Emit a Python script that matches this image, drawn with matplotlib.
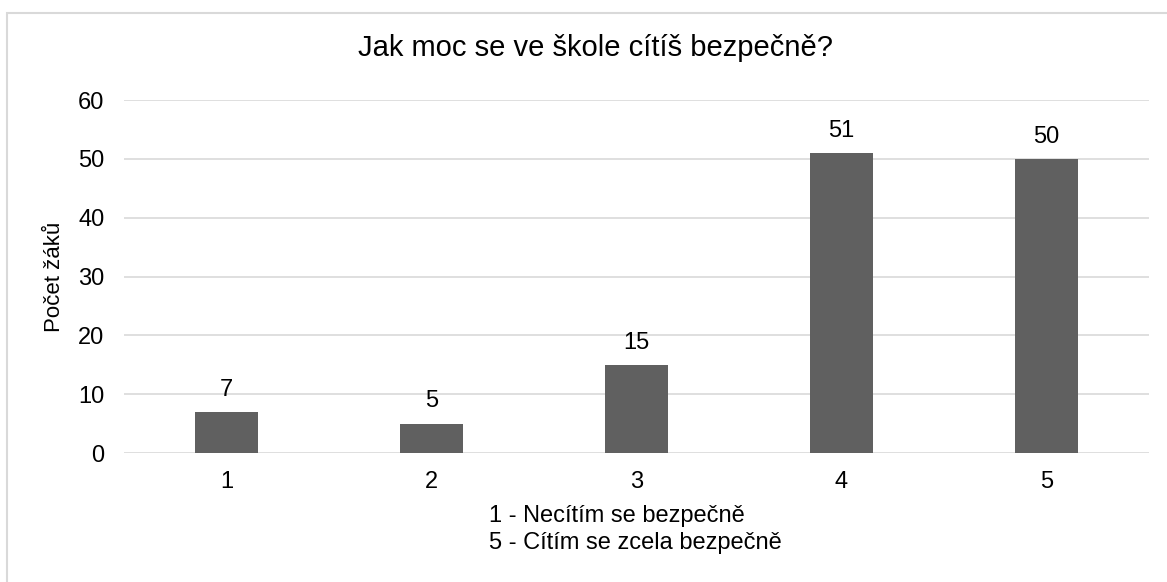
import matplotlib
matplotlib.use("Agg")
import matplotlib.pyplot as plt
from matplotlib.patches import Rectangle

categories = ["1", "2", "3", "4", "5"]
counts = [7, 5, 15, 51, 50]
yticks = [0, 10, 20, 30, 40, 50, 60]

plt.rcParams['font.family'] = ['Liberation Sans', 'DejaVu Sans']

W, H = 1167, 582
fig = plt.figure(figsize=(W / 100, H / 100), dpi=100)

# chart border (Excel-style frame, cut off at right and bottom)
fig.patches.append(Rectangle((7 / W, -0.1), 1.2, (H - 13) / H + 0.1,
                             transform=fig.transFigure, fill=False,
                             edgecolor="#d9d9d9", linewidth=1.5))

fs = 17
ax = fig.add_axes([124 / W, (H - 453) / H, (1149 - 124) / W, (453 - 100) / H])
x = range(len(categories))
bars = ax.bar(x, counts, width=0.31, color="#606060", zorder=3)
ax.set_xlim(-0.5, len(categories) - 0.5)
ax.set_ylim(0, 60)
ax.set_yticks(yticks)
ax.set_xticks(list(x))
ax.set_xticklabels(categories)
ax.grid(axis="y", color="#d9d9d9", linewidth=1.2, zorder=0)
for s in ax.spines.values():
    s.set_visible(False)
ax.tick_params(length=0, labelsize=fs, colors="black")
ax.tick_params(axis="x", pad=13)
ax.tick_params(axis="y", pad=14)

for b, v in zip(bars, counts):
    ax.annotate(str(v), (b.get_x() + b.get_width() / 2, v), xytext=(0, 8),
                textcoords="offset points", ha="center", va="bottom", fontsize=fs)

ax.set_ylabel("Počet žáků", fontsize=16)
ax.yaxis.set_label_coords(-59 / (1149 - 124), 0.5)

fig.text(595 / W, 1 - 48 / H, "Jak moc se ve škole cítíš bezpečně?",
         ha="center", va="center", fontsize=21)
fig.text(489 / W, 1 - 516 / H, "1 - Necítím se bezpečně", ha="left", va="center", fontsize=fs)
fig.text(489 / W, 1 - 543 / H, "5 - Cítím se zcela bezpečně", ha="left", va="center", fontsize=fs)

fig.savefig("out.png", dpi=100)
